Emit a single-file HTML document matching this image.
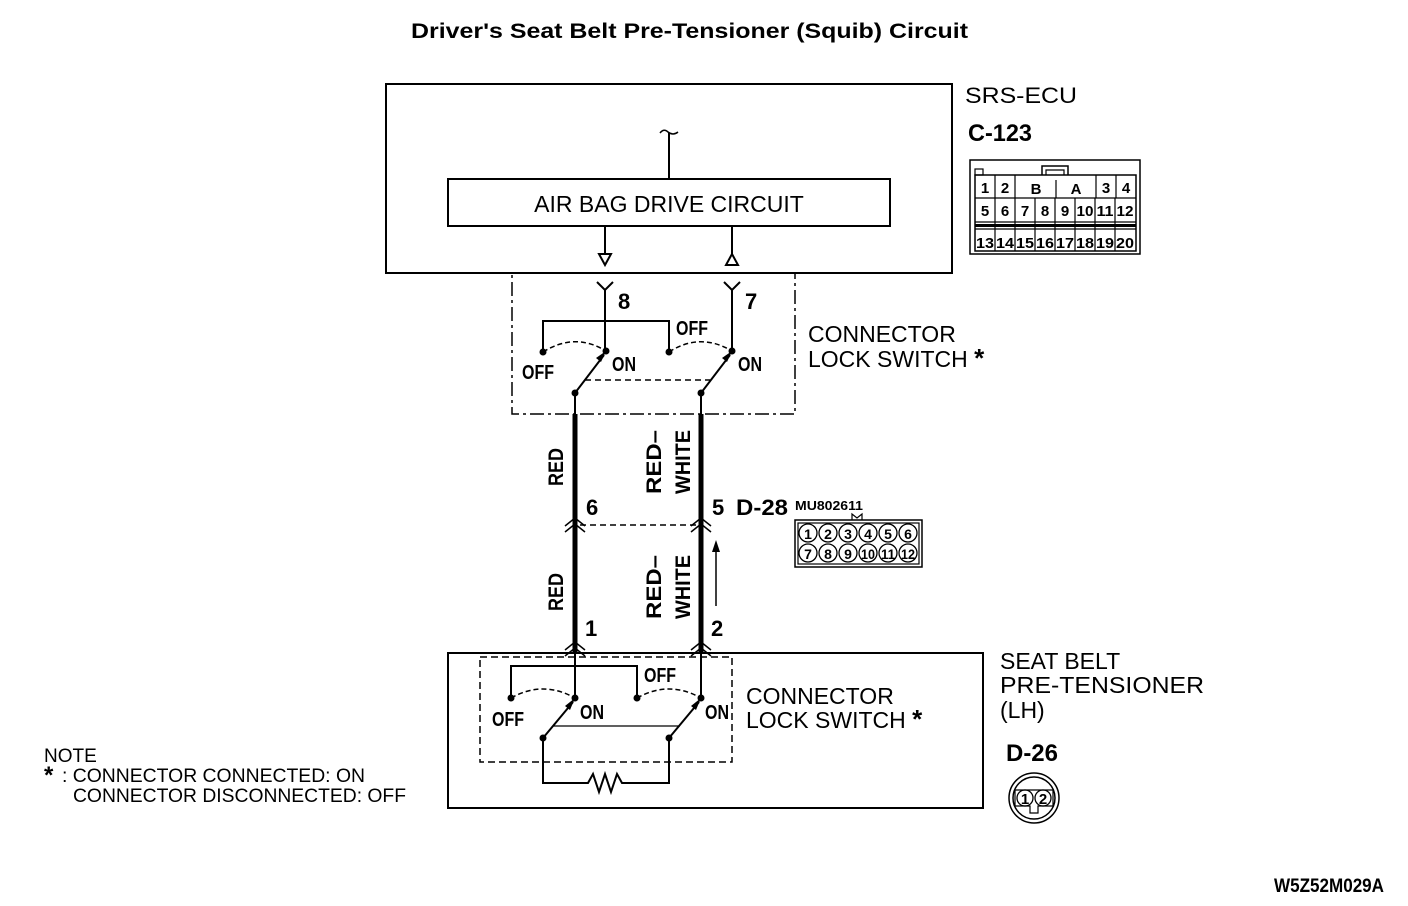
<!DOCTYPE html>
<html><head><meta charset="utf-8"><style>
html,body{margin:0;padding:0;background:#fff}
svg{display:block}
text{font-family:"Liberation Sans",sans-serif;fill:#000}
.c{font-weight:bold}
</style></head><body>
<svg width="1408" height="906" viewBox="0 0 1408 906" xmlns="http://www.w3.org/2000/svg">
<g stroke="#000" fill="none" stroke-width="2">
<text x="411" y="38" font-size="21" font-weight="bold" stroke="none" textLength="557" lengthAdjust="spacingAndGlyphs">Driver's Seat Belt Pre-Tensioner (Squib) Circuit</text>

<!-- ECU -->
<rect x="386" y="84" width="566" height="189"/>
<rect x="448" y="179" width="442" height="47"/>
<text x="669" y="212" text-anchor="middle" font-size="23" stroke="none">AIR BAG DRIVE CIRCUIT</text>
<line x1="669" y1="133" x2="669" y2="179"/>
<path d="M660 133 Q664 128 668 132 Q673 136 678 132" stroke-width="1.5"/>
<line x1="605" y1="226" x2="605" y2="254"/>
<path d="M599 254 L611 254 L605 265 Z"/>
<line x1="732" y1="226" x2="732" y2="254"/>
<path d="M726 265 L738 265 L732 254 Z"/>

<text x="965" y="103" font-size="22" stroke="none" textLength="112" lengthAdjust="spacingAndGlyphs">SRS-ECU</text>
<text x="968" y="141" font-size="24" class="c" stroke="none" textLength="64" lengthAdjust="spacingAndGlyphs">C-123</text>

<!-- C-123 connector -->
<rect x="970" y="160" width="170" height="94" stroke-width="1.5"/>
<rect x="975" y="175" width="161" height="76" stroke-width="1.5"/>
<rect x="975" y="169" width="8" height="6" stroke-width="1.2"/>
<path d="M1042 175 V166 H1068 V175" stroke-width="1.5"/>
<path d="M1046 175 V170 H1064 V175" stroke-width="1.2"/>
<g stroke-width="1.2">
<line x1="975" y1="198" x2="1136" y2="198"/>
<line x1="975" y1="222" x2="1136" y2="222"/>
<line x1="975" y1="229" x2="1136" y2="229"/>
</g>
<rect x="975" y="224" width="161" height="3" fill="#000" stroke="none"/>
<g stroke-width="1.2">
<line x1="995" y1="175" x2="995" y2="198"/><line x1="1015" y1="175" x2="1015" y2="198"/><line x1="1096" y1="175" x2="1096" y2="198"/><line x1="1116" y1="175" x2="1116" y2="198"/><line x1="1056" y1="180" x2="1056" y2="198"/>
<line x1="995" y1="198" x2="995" y2="251"/><line x1="1015" y1="198" x2="1015" y2="251"/><line x1="1035" y1="198" x2="1035" y2="251"/><line x1="1055" y1="198" x2="1055" y2="251"/><line x1="1075" y1="198" x2="1075" y2="251"/><line x1="1095" y1="198" x2="1095" y2="251"/><line x1="1115" y1="198" x2="1115" y2="251"/>
</g>
<g font-size="15" class="c" stroke="none" text-anchor="middle">
<text x="985" y="193">1</text><text x="1005" y="193">2</text><text x="1036" y="194">B</text><text x="1076" y="194">A</text><text x="1106" y="193">3</text><text x="1126" y="193">4</text>
<text x="985" y="216">5</text><text x="1005" y="216">6</text><text x="1025" y="216">7</text><text x="1045" y="216">8</text><text x="1065" y="216">9</text><text x="1085" y="216" textLength="17" lengthAdjust="spacingAndGlyphs">10</text><text x="1105" y="216" textLength="17" lengthAdjust="spacingAndGlyphs">11</text><text x="1125" y="216" textLength="17" lengthAdjust="spacingAndGlyphs">12</text>
<text x="985" y="248" textLength="18" lengthAdjust="spacingAndGlyphs">13</text><text x="1005" y="248" textLength="18" lengthAdjust="spacingAndGlyphs">14</text><text x="1025" y="248" textLength="18" lengthAdjust="spacingAndGlyphs">15</text><text x="1045" y="248" textLength="18" lengthAdjust="spacingAndGlyphs">16</text><text x="1065" y="248" textLength="18" lengthAdjust="spacingAndGlyphs">17</text><text x="1085" y="248" textLength="18" lengthAdjust="spacingAndGlyphs">18</text><text x="1105" y="248" textLength="18" lengthAdjust="spacingAndGlyphs">19</text><text x="1125" y="248" textLength="18" lengthAdjust="spacingAndGlyphs">20</text>
</g>

<!-- upper connector lock switch -->
<rect x="512" y="273" width="283" height="141" stroke-dasharray="14,4,3,4" stroke-width="1.5"/>
<path d="M597 282 L605 290 L613 282 M605 290 V351"/>
<path d="M724 282 L732 290 L740 282 M732 290 V351"/>
<text x="618" y="309" font-size="22" class="c" stroke="none">8</text>
<text x="745" y="309" font-size="22" class="c" stroke="none">7</text>
<path d="M543 352 V321 H669 V352"/>
<path d="M543 352 Q575 332 606 351" stroke-dasharray="5,3" stroke-width="1.5"/>
<path d="M669 352 Q700 332 732 351" stroke-dasharray="5,3" stroke-width="1.5"/>
<line x1="585" y1="380" x2="710" y2="380" stroke-dasharray="6,4" stroke-width="1.5"/>
<line x1="575" y1="393" x2="604" y2="355"/>
<line x1="701" y1="393" x2="730" y2="355"/>
<g fill="#000" stroke="none">
<circle cx="543" cy="352" r="3.5"/><circle cx="606" cy="351" r="3.5"/><circle cx="575" cy="393" r="3.5"/>
<circle cx="669" cy="352" r="3.5"/><circle cx="732" cy="351" r="3.5"/><circle cx="701" cy="393" r="3.5"/>
<path d="M606 351 L596 358 L601 362 Z"/><path d="M732 351 L722 358 L727 362 Z"/>
</g>
<line x1="575" y1="393" x2="575" y2="416"/>
<line x1="701" y1="393" x2="701" y2="416"/>
<g font-size="20" class="c" stroke="none">
<text x="522" y="379" textLength="32" lengthAdjust="spacingAndGlyphs">OFF</text>
<text x="612" y="371" textLength="24" lengthAdjust="spacingAndGlyphs">ON</text>
<text x="676" y="335" textLength="32" lengthAdjust="spacingAndGlyphs">OFF</text>
<text x="738" y="371" textLength="24" lengthAdjust="spacingAndGlyphs">ON</text>
</g>
<text x="808" y="342" font-size="23" stroke="none">CONNECTOR</text>
<text x="808" y="367" font-size="23" stroke="none">LOCK SWITCH <tspan font-weight="bold" font-size="26">*</tspan></text>

<!-- thick wires -->
<line x1="575" y1="414" x2="575" y2="652" stroke-width="5"/>
<line x1="701" y1="414" x2="701" y2="652" stroke-width="5"/>
<path d="M565 526 L575 518 L585 526 M565 532 L575 524 L585 532" stroke-width="1.5"/>
<path d="M691 526 L701 518 L711 526 M691 532 L701 524 L711 532" stroke-width="1.5"/>
<line x1="580" y1="525" x2="696" y2="525" stroke-dasharray="6,4" stroke-width="1.5"/>
<line x1="716" y1="606" x2="716" y2="548" stroke-width="1.5"/>
<path d="M716 540 L712 552 L720 552 Z" fill="#000" stroke="none"/>
<g font-size="22" class="c" stroke="none">
<text x="586" y="515">6</text>
<text x="712" y="515">5</text>
<text x="736" y="515" textLength="52" lengthAdjust="spacingAndGlyphs">D-28</text>
<text x="585" y="636">1</text>
<text x="711" y="636">2</text>
</g>
<g font-size="21" class="c" stroke="none">
<text transform="translate(563,486) rotate(-90)" textLength="38" lengthAdjust="spacingAndGlyphs">RED</text>
<text transform="translate(563,611) rotate(-90)" textLength="38" lengthAdjust="spacingAndGlyphs">RED</text>
<text transform="translate(661,494) rotate(-90)" textLength="64" lengthAdjust="spacingAndGlyphs">RED–</text>
<text transform="translate(690,494) rotate(-90)" textLength="64" lengthAdjust="spacingAndGlyphs">WHITE</text>
<text transform="translate(661,619) rotate(-90)" textLength="64" lengthAdjust="spacingAndGlyphs">RED–</text>
<text transform="translate(690,619) rotate(-90)" textLength="64" lengthAdjust="spacingAndGlyphs">WHITE</text>
</g>

<!-- D-28 connector -->
<text x="795" y="510" font-size="13" class="c" stroke="none" textLength="68" lengthAdjust="spacingAndGlyphs">MU802611</text>
<path d="M852 520 L852 514 L857 518 L862 514 L862 520" stroke-width="1.2"/>
<rect x="795" y="520" width="127" height="47" stroke-width="1.5"/>
<rect x="798" y="523" width="121" height="41" stroke-width="1.2"/>
<g stroke-width="1.3">
<circle cx="808" cy="533" r="9"/><circle cx="828" cy="533" r="9"/><circle cx="848" cy="533" r="9"/><circle cx="868" cy="533" r="9"/><circle cx="888" cy="533" r="9"/><circle cx="908" cy="533" r="9"/>
<circle cx="808" cy="553" r="9"/><circle cx="828" cy="553" r="9"/><circle cx="848" cy="553" r="9"/><circle cx="868" cy="553" r="9"/><circle cx="888" cy="553" r="9"/><circle cx="908" cy="553" r="9"/>
</g>
<g font-size="14" class="c" stroke="none" text-anchor="middle">
<text x="808" y="539">1</text><text x="828" y="539">2</text><text x="848" y="539">3</text><text x="868" y="539">4</text><text x="888" y="539">5</text><text x="908" y="539">6</text>
<text x="808" y="559">7</text><text x="828" y="559">8</text><text x="848" y="559">9</text><text x="868" y="559" textLength="14" lengthAdjust="spacingAndGlyphs">10</text><text x="888" y="559" textLength="14" lengthAdjust="spacingAndGlyphs">11</text><text x="908" y="559" textLength="14" lengthAdjust="spacingAndGlyphs">12</text>
</g>

<!-- lower connector chevrons -->
<path d="M565 650 L575 642 L585 650 M565 656 L575 648 L585 656" stroke-width="1.5"/>
<path d="M691 650 L701 642 L711 650 M691 656 L701 648 L711 656" stroke-width="1.5"/>

<!-- pre-tensioner -->
<rect x="448" y="653" width="535" height="155"/>
<rect x="480" y="657" width="252" height="105" stroke-dasharray="7,4" stroke-width="1.5"/>
<line x1="575" y1="653" x2="575" y2="698"/>
<line x1="701" y1="653" x2="701" y2="698"/>
<path d="M511 698 V666 H637 V698"/>
<path d="M511 698 Q543 680 575 698" stroke-dasharray="5,3" stroke-width="1.5"/>
<path d="M637 698 Q669 680 701 698" stroke-dasharray="5,3" stroke-width="1.5"/>
<line x1="553" y1="726" x2="680" y2="726" stroke-width="1.2"/>
<line x1="543" y1="738" x2="573" y2="702"/>
<line x1="669" y1="738" x2="699" y2="702"/>
<path d="M543 738 V783 H588 L593 774 L599 792 L605 774 L611 792 L617 774 L622 783 H669 V738"/>
<g fill="#000" stroke="none">
<circle cx="511" cy="698" r="3.5"/><circle cx="575" cy="698" r="3.5"/><circle cx="543" cy="738" r="3.5"/>
<circle cx="637" cy="698" r="3.5"/><circle cx="701" cy="698" r="3.5"/><circle cx="669" cy="738" r="3.5"/>
<path d="M575 698 L565 706 L570 710 Z"/><path d="M701 698 L691 706 L696 710 Z"/>
</g>
<g font-size="20" class="c" stroke="none">
<text x="492" y="726" textLength="32" lengthAdjust="spacingAndGlyphs">OFF</text>
<text x="580" y="719" textLength="24" lengthAdjust="spacingAndGlyphs">ON</text>
<text x="644" y="682" textLength="32" lengthAdjust="spacingAndGlyphs">OFF</text>
<text x="705" y="719" textLength="24" lengthAdjust="spacingAndGlyphs">ON</text>
</g>
<text x="746" y="704" font-size="23" stroke="none">CONNECTOR</text>
<text x="746" y="728" font-size="23" stroke="none">LOCK SWITCH <tspan font-weight="bold" font-size="26">*</tspan></text>

<text x="1000" y="669" font-size="23" stroke="none">SEAT BELT</text>
<text x="1000" y="693" font-size="23" stroke="none" textLength="204" lengthAdjust="spacingAndGlyphs">PRE-TENSIONER</text>
<text x="1000" y="718" font-size="23" stroke="none">(LH)</text>
<text x="1006" y="761" font-size="24" class="c" stroke="none" textLength="52" lengthAdjust="spacingAndGlyphs">D-26</text>
<circle cx="1034" cy="798" r="25" stroke-width="1.5"/>
<circle cx="1034" cy="798" r="21" stroke-width="1.5"/>
<path d="M1015 790 H1053 V806 H1038 V813 H1030 V806 H1015 Z" stroke-width="1.2"/>
<circle cx="1025" cy="798" r="8" stroke-width="1.3"/>
<circle cx="1043" cy="798" r="8" stroke-width="1.3"/>
<text x="1025" y="804" font-size="15" class="c" stroke="none" text-anchor="middle">1</text>
<text x="1043" y="804" font-size="15" class="c" stroke="none" text-anchor="middle">2</text>

<!-- note -->
<g font-size="19" stroke="none">
<text x="44" y="762">NOTE</text>
<text x="44" y="783" font-weight="bold" font-size="24">*</text>
<text x="62" y="782" textLength="303" lengthAdjust="spacingAndGlyphs">: CONNECTOR CONNECTED: ON</text>
<text x="73" y="802" textLength="333" lengthAdjust="spacingAndGlyphs">CONNECTOR DISCONNECTED: OFF</text>
</g>
<text x="1274" y="892" font-size="19" class="c" stroke="none" textLength="110" lengthAdjust="spacingAndGlyphs">W5Z52M029A</text>
</g>
</svg>
</body></html>
